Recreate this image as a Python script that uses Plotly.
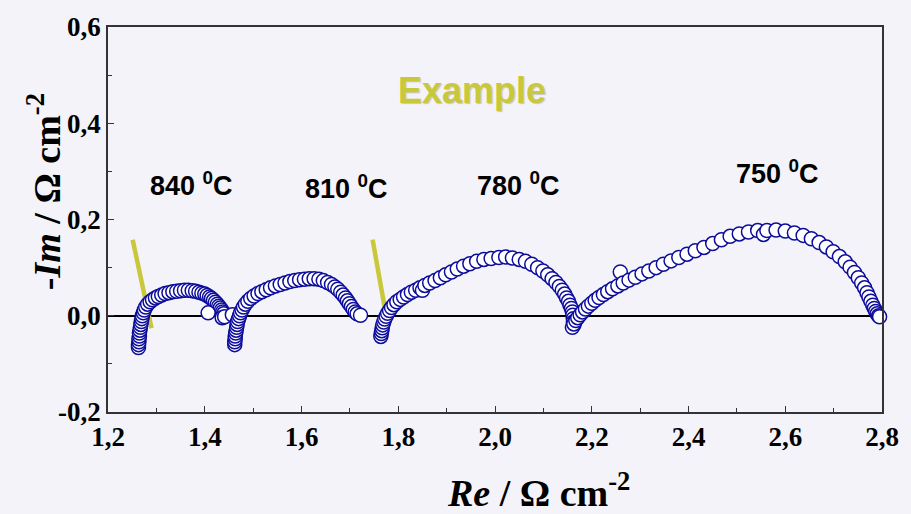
import plotly.graph_objects as go

# ---------------- data ----------------
re_840 = [1.263, 1.263, 1.264, 1.264, 1.265, 1.265, 1.266, 1.267, 1.268, 1.269, 1.270, 1.271,
          1.273, 1.275, 1.278, 1.282, 1.287, 1.292, 1.298, 1.304, 1.311, 1.318, 1.326, 1.334,
          1.342, 1.350, 1.358, 1.366, 1.374, 1.381, 1.388, 1.394, 1.400, 1.405, 1.410, 1.414,
          1.418, 1.422, 1.426, 1.429, 1.432, 1.435, 1.437, 1.439, 1.407, 1.436, 1.441, 1.457]
im_840 = [-0.066, -0.060, -0.054, -0.048, -0.042, -0.036, -0.030, -0.024, -0.018, -0.012, -0.006, 0.000,
          0.006, 0.012, 0.018, 0.024, 0.029, 0.033, 0.037, 0.040, 0.043, 0.046, 0.048, 0.050,
          0.051, 0.052, 0.053, 0.053, 0.052, 0.051, 0.049, 0.047, 0.045, 0.042, 0.039, 0.036,
          0.032, 0.028, 0.024, 0.020, 0.016, 0.012, 0.008, 0.004, 0.006, -0.004, -0.002, 0.002]

re_810 = [1.462, 1.462, 1.463, 1.463, 1.464, 1.465, 1.466, 1.467, 1.468, 1.470, 1.472, 1.474,
          1.477, 1.480, 1.484, 1.489, 1.495, 1.502, 1.510, 1.518, 1.527, 1.536, 1.546, 1.556,
          1.566, 1.576, 1.586, 1.596, 1.606, 1.616, 1.626, 1.636, 1.645, 1.654, 1.662, 1.669,
          1.675, 1.681, 1.686, 1.691, 1.695, 1.699, 1.703, 1.707, 1.711, 1.715, 1.722]
im_810 = [-0.060, -0.054, -0.048, -0.042, -0.036, -0.030, -0.024, -0.018, -0.012, -0.006, 0.000, 0.006,
          0.012, 0.018, 0.024, 0.030, 0.036, 0.041, 0.046, 0.050, 0.054, 0.058, 0.062, 0.065,
          0.068, 0.071, 0.073, 0.075, 0.076, 0.077, 0.077, 0.076, 0.073, 0.069, 0.065, 0.060,
          0.055, 0.049, 0.043, 0.037, 0.031, 0.025, 0.019, 0.013, 0.008, 0.004, 0.001]

re_780 = [1.764, 1.765, 1.766, 1.767, 1.768, 1.770, 1.772, 1.775, 1.778, 1.782, 1.786, 1.791,
          1.797, 1.804, 1.811, 1.819, 1.827, 1.836, 1.845, 1.850, 1.855, 1.865, 1.876, 1.887,
          1.898, 1.910, 1.922, 1.935, 1.948, 1.962, 1.977, 1.992, 2.008, 2.022, 2.036, 2.050,
          2.063, 2.076, 2.088, 2.099, 2.109, 2.118, 2.126, 2.133, 2.139, 2.144, 2.148, 2.152,
          2.155, 2.158, 2.160, 2.161, 2.162, 2.162, 2.163]
im_780 = [-0.043, -0.037, -0.031, -0.025, -0.019, -0.013, -0.007, -0.001, 0.005, 0.011, 0.017, 0.023,
          0.029, 0.034, 0.039, 0.044, 0.049, 0.053, 0.058, 0.053, 0.063, 0.068, 0.073, 0.079,
          0.085, 0.091, 0.097, 0.103, 0.108, 0.113, 0.117, 0.119, 0.121, 0.122, 0.120, 0.117,
          0.113, 0.107, 0.100, 0.093, 0.085, 0.077, 0.069, 0.061, 0.053, 0.045, 0.037, 0.030,
          0.022, 0.015, 0.008, 0.001, -0.006, -0.013, -0.019]

re_750 = [2.160, 2.163, 2.167, 2.171, 2.176, 2.181, 2.187, 2.193, 2.200, 2.207, 2.215, 2.224,
          2.233, 2.243, 2.254, 2.259, 2.265, 2.277, 2.290, 2.304, 2.318, 2.333, 2.348, 2.364,
          2.380, 2.397, 2.414, 2.432, 2.450, 2.468, 2.486, 2.505, 2.524, 2.543, 2.555, 2.562,
          2.581, 2.600, 2.619, 2.637, 2.654, 2.670, 2.685, 2.699, 2.712, 2.724, 2.734, 2.743,
          2.751, 2.758, 2.764, 2.769, 2.773, 2.777, 2.781, 2.784, 2.787, 2.790, 2.793, 2.795]
im_750 = [-0.024, -0.017, -0.010, -0.004, 0.002, 0.008, 0.014, 0.020, 0.026, 0.032, 0.038, 0.044,
          0.050, 0.056, 0.062, 0.091, 0.068, 0.074, 0.080, 0.087, 0.093, 0.100, 0.107, 0.114,
          0.121, 0.128, 0.135, 0.142, 0.150, 0.158, 0.165, 0.170, 0.174, 0.177, 0.169, 0.177,
          0.178, 0.176, 0.172, 0.167, 0.160, 0.152, 0.143, 0.133, 0.123, 0.112, 0.101, 0.090,
          0.079, 0.068, 0.058, 0.048, 0.039, 0.030, 0.022, 0.015, 0.009, 0.004, 0.000, -0.002]

guide1_re = [1.251, 1.290]
guide1_im = [0.158, -0.026]
guide2_re = [1.747, 1.775]
guide2_im = [0.158, 0.000]

temp_labels = ["840 <sup>0</sup>C", "810 <sup>0</sup>C", "780 <sup>0</sup>C", "750 <sup>0</sup>C"]
temp_label_re = [1.373, 1.692, 2.048, 2.583]
temp_label_im = [0.274, 0.268, 0.274, 0.298]

x_tickvals = [1.2, 1.4, 1.6, 1.8, 2.0, 2.2, 2.4, 2.6, 2.8]
x_ticktext = ["1,2", "1,4", "1,6", "1,8", "2,0", "2,2", "2,4", "2,6", "2,8"]
y_tickvals = [-0.2, 0.0, 0.2, 0.4, 0.6]
y_ticktext = ["-0,2", "0,0", "0,2", "0,4", "0,6"]

# ---------------- figure ----------------
BLUE = "#0d0d9c"
OLIVE = "#c8c83a"
SERIF = "Liberation Serif, Times New Roman, serif"
SANS = "Liberation Sans, Arial, sans-serif"

fig = go.Figure()

for gx, gy in [(guide1_re, guide1_im), (guide2_re, guide2_im)]:
    fig.add_trace(go.Scatter(x=gx, y=gy, mode="lines",
                             line=dict(color=OLIVE, width=4.5),
                             showlegend=False, hoverinfo="skip"))

for rx, iy in [(re_840, im_840), (re_810, im_810), (re_780, im_780), (re_750, im_750)]:
    fig.add_trace(go.Scatter(
        x=rx, y=iy, mode="markers",
        marker=dict(symbol="circle", size=14, color="white",
                    line=dict(color=BLUE, width=1.5)),
        showlegend=False, cliponaxis=False))

annotations = []
for t, xv, yv in zip(temp_labels, temp_label_re, temp_label_im):
    annotations.append(dict(x=xv, y=yv, xref="x", yref="y", text=t, showarrow=False,
                            xanchor="center", yanchor="middle",
                            font=dict(family=SANS, size=27, color="black", weight="bold")))

annotations.append(dict(x=(474 - 108) / 778, y=(412 - 86) / 390, xref="paper", yref="paper",
                        text="Example", showarrow=False, xanchor="center", yanchor="middle",
                        font=dict(family=SANS, size=36, color=OLIVE, weight="bold",
                                  shadow="1px 1px 1px #c8c8c0")))

# axis titles
annotations.append(dict(x=(541 - 108) / 778, y=(412 - 491) / 390, xref="paper", yref="paper",
                        text="<i>Re</i> / \u03a9 cm<sup>-2</sup>", showarrow=False,
                        xanchor="center", yanchor="middle",
                        font=dict(family=SERIF, size=38, color="black", weight="bold")))
annotations.append(dict(x=(44 - 108) / 778, y=(412 - 189) / 390, xref="paper", yref="paper",
                        text="-<i>Im</i> / \u03a9 cm<sup>-2</sup>", showarrow=False, textangle=-90,
                        xanchor="center", yanchor="middle",
                        font=dict(family=SERIF, size=38, color="black", weight="bold")))

axis_common = dict(showline=True, linecolor="#333333", linewidth=1.5, mirror=True,
                   ticks="inside", ticklen=6, tickcolor="#333333", showgrid=False,
                   tickfont=dict(family=SERIF, size=27, color="black", weight="bold"))

fig.update_layout(
    width=911, height=514,
    margin=dict(l=108, r=25, t=22, b=102),
    paper_bgcolor="#f3f3f9", plot_bgcolor="#f3f3f9",
    annotations=annotations,
    xaxis=dict(range=[1.2, 2.8], tickvals=x_tickvals, ticktext=x_ticktext, zeroline=False,
               minor=dict(ticks="inside", dtick=0.1, ticklen=4, tickcolor="#333333"),
               **axis_common),
    yaxis=dict(range=[-0.2, 0.6], tickvals=y_tickvals, ticktext=y_ticktext,
               zeroline=True, zerolinecolor="black", zerolinewidth=1.5,
               minor=dict(ticks="inside", dtick=0.1, ticklen=4, tickcolor="#333333"),
               **axis_common),
)

fig.write_html("out.html")
